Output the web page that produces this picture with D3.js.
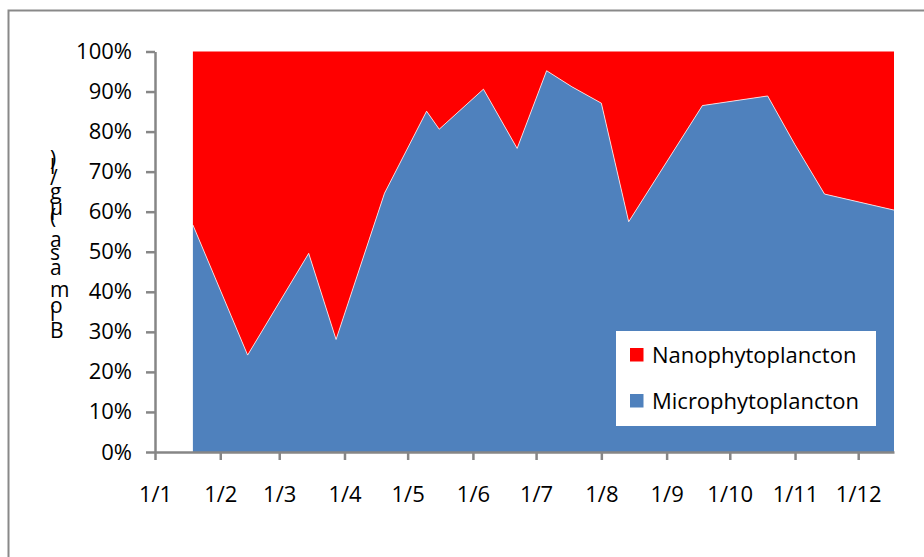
<!DOCTYPE html>
<html>
<head>
<meta charset="utf-8">
<script src="https://cdn.jsdelivr.net/npm/d3@7"></script>
<style>
  body { margin: 0; background: #fff; }
  svg { display: block; }
  text { font-family: "Open Sans", Lato, sans-serif; }
</style>
</head>
<body>
<svg id="chart" width="924" height="557"></svg>
<script>
// Sampling dates (day/month) and share of each size fraction in total biomass (%)
const sampleDates = ["2010-01-19", "2010-02-14", "2010-03-15", "2010-03-28", "2010-04-20",
  "2010-05-10", "2010-05-16", "2010-06-06", "2010-06-22", "2010-07-06", "2010-07-18",
  "2010-08-01", "2010-08-14", "2010-09-18", "2010-10-19", "2010-11-01", "2010-11-15", "2010-12-18"];
const microPct = [56.7, 24.2, 49.6, 28.1, 64.6, 85.1, 80.6, 90.6, 75.8, 95.2, 91.2,
  87.1, 57.5, 86.5, 88.9, 76.7, 64.4, 60.4];
const nanoPct = [43.3, 75.8, 50.4, 71.9, 35.4, 14.9, 19.4, 9.4, 24.2, 4.8, 8.8,
  12.9, 42.5, 13.5, 11.1, 23.3, 35.6, 39.6];

const seriesKeys = ["micro", "nano"];
const seriesNames = { nano: "Nanophytoplancton", micro: "Microphytoplancton" };
const seriesColors = { nano: "#FF0000", micro: "#4F81BD" };
const legendOrder = ["nano", "micro"];
const yTicks = [0, 0.1, 0.2, 0.3, 0.4, 0.5, 0.6, 0.7, 0.8, 0.9, 1];
const xDomain = ["2010-01-01", "2010-12-18"];
const yAxisTitle = "Biomasa (µg/l)";

const parse = d3.timeParse("%Y-%m-%d");
const rows = sampleDates.map((d, i) => ({ date: parse(d), micro: microPct[i], nano: nanoPct[i] }));

const svg = d3.select("#chart");
const axisColor = "#868686";
const labelSize = 22;

// Outer chart frame
svg.append("rect")
  .attr("x", 8.5).attr("y", 10.5)
  .attr("width", 940).attr("height", 570)
  .attr("fill", "none").attr("stroke", "#898989").attr("stroke-width", 2);

const x = d3.scaleTime().domain(xDomain.map(parse)).range([155, 894]);
const y = d3.scaleLinear().domain([0, 1]).range([452, 51.5]);

const stacked = d3.stack().keys(seriesKeys).offset(d3.stackOffsetExpand)(rows);

const area = d3.area()
  .x(d => x(d.data.date))
  .y0(d => y(d[0]))
  .y1(d => y(d[1]));

svg.append("g").selectAll("path")
  .data(stacked)
  .join("path")
  .attr("d", area)
  .attr("fill", d => seriesColors[d.key]);

// thin light seam along the boundary between the two fractions
svg.append("path")
  .datum(stacked[0])
  .attr("d", d3.line().x(d => x(d.data.date)).y(d => y(d[1])))
  .attr("fill", "none")
  .attr("stroke", "#ffffff")
  .attr("stroke-opacity", 0.75)
  .attr("stroke-width", 1);

// Y axis
const yAxis = svg.append("g")
  .attr("transform", "translate(155,0)")
  .call(d3.axisLeft(y).tickValues(yTicks).tickFormat(d3.format(".0%")).tickSize(9).tickSizeOuter(0).tickPadding(14));
yAxis.select(".domain").attr("stroke", axisColor).attr("stroke-width", 2.5);
yAxis.selectAll(".tick line").attr("stroke", axisColor).attr("stroke-width", 2.5);
yAxis.selectAll(".tick text").attr("font-size", labelSize).attr("fill", "#000").attr("font-family", "Open Sans");

// X axis
const xAxis = svg.append("g")
  .attr("transform", "translate(0,452)")
  .call(d3.axisBottom(x).ticks(d3.timeMonth.every(1)).tickFormat(d3.timeFormat("%-d/%-m")).tickSize(8).tickSizeOuter(0).tickPadding(26));
xAxis.select(".domain").attr("stroke", axisColor).attr("stroke-width", 2.5);
xAxis.selectAll(".tick line").attr("stroke", axisColor).attr("stroke-width", 2.5);
xAxis.selectAll(".tick text").attr("font-size", labelSize).attr("fill", "#000").attr("font-family", "Open Sans");

// Y axis title: runs bottom to top, each glyph kept upright
svg.append("text")
  .attr("transform", "translate(50,338) rotate(-90)")
  .attr("font-size", 21)
  .attr("letter-spacing", 3)
  .attr("rotate", 90)
  .attr("fill", "#000")
  .text(yAxisTitle);

// Legend
const legend = svg.append("g");
legend.append("rect")
  .attr("x", 616).attr("y", 331).attr("width", 260).attr("height", 95)
  .attr("fill", "#fff");
const items = legend.selectAll("g.item")
  .data(legendOrder)
  .join("g")
  .attr("class", "item")
  .attr("transform", (d, i) => `translate(630,${348 + i * 46})`);
items.append("rect")
  .attr("width", 13.5).attr("height", 13.5)
  .attr("fill", d => seriesColors[d]);
items.append("text")
  .attr("x", 22).attr("y", 15)
  .attr("font-size", labelSize)
  .attr("fill", "#000")
  .text(d => seriesNames[d]);
</script>
</body>
</html>
